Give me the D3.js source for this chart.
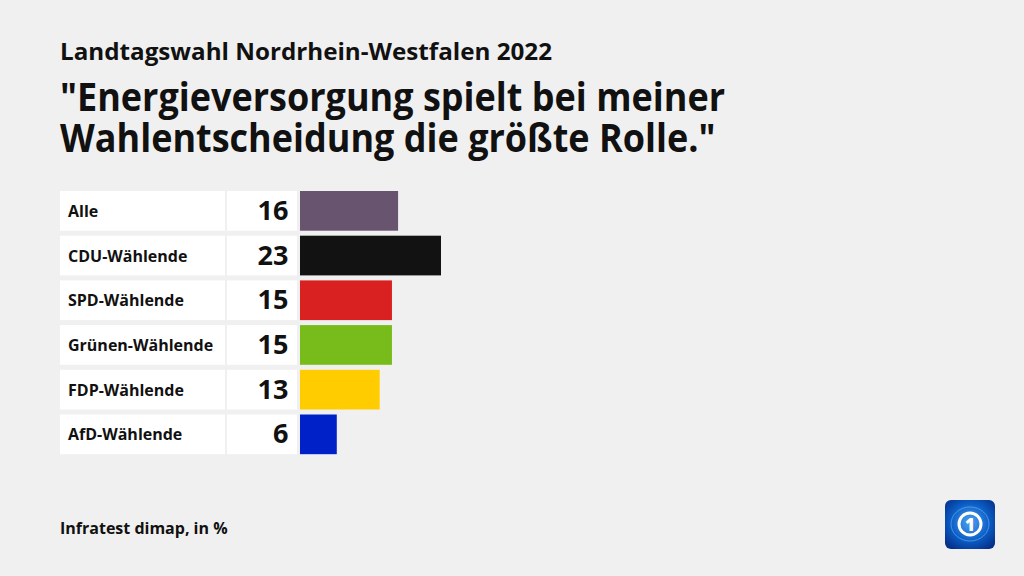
<!DOCTYPE html>
<html><head><meta charset="utf-8">
<script src="https://cdn.jsdelivr.net/npm/d3@7"></script>
<style>body{margin:0;background:#f0f0f0}svg{display:block}text{font-family:"Open Sans",sans-serif}</style>
</head><body>
<svg id="c" width="1024" height="576"></svg>
<script>
const categories = ["Alle","CDU-Wählende","SPD-Wählende","Grünen-Wählende","FDP-Wählende","AfD-Wählende"];
const values = [16,23,15,15,13,6];
const colors = ["#68546f","#121212","#d92121","#78bc1b","#ffcc00","#0021c7"];
const subtitle = "Landtagswahl Nordrhein-Westfalen 2022";
const titleLines = ["\"Energieversorgung spielt bei meiner","Wahlentscheidung die größte Rolle.\""];
const source = "Infratest dimap, in %";

const svg = d3.select("#c");
svg.append("rect").attr("width",1024).attr("height",576).attr("fill","#f0f0f0");

// squeeze text horizontally by factor k
function squeeze(sel, k){ sel.each(function(){ const l=this.getComputedTextLength(); d3.select(this).attr("textLength", l*k).attr("lengthAdjust","spacingAndGlyphs"); }); }

const st = svg.append("text").attr("x",60).attr("y",60).attr("font-size",24).attr("font-weight",700).attr("fill","#111").text(subtitle);
squeeze(st, 492/st.node().getComputedTextLength());
const tl = [111,152].map((y,i)=> svg.append("text").attr("x",60).attr("y",y).attr("font-size",40).attr("font-weight",700).attr("fill","#111").text(titleLines[i]));
const kT = 665/tl[0].node().getComputedTextLength();
tl.forEach(t=>squeeze(t,kT));

const y = d3.scaleBand().domain(categories).range([191, 191+44.7*(6-5/44.7)]).paddingInner(5/44.7).paddingOuter(0);
const x = d3.scaleLinear().domain([0,23]).range([300,441]);

const g = svg.append("g");
const rows = g.selectAll("g.row").data(categories).join("g");
rows.append("rect").attr("x",60).attr("width",165).attr("y",d=>y(d)).attr("height",y.bandwidth()).attr("fill","#fff");
rows.append("rect").attr("x",227).attr("width",70).attr("y",d=>y(d)).attr("height",y.bandwidth()).attr("fill","#fff");
rows.append("rect").attr("x",x(0)).attr("y",d=>y(d)).attr("height",y.bandwidth())
  .attr("width",(d,i)=>x(values[i])-x(0)).attr("fill",(d,i)=>colors[i]);
rows.append("text").attr("x",68).attr("y",d=>y(d)+y.bandwidth()/2+6).attr("font-size",16).attr("font-weight",700).attr("fill","#111").text(d=>d);
rows.append("text").attr("x",288.5).attr("y",d=>y(d)+y.bandwidth()/2+9).attr("text-anchor","end").attr("font-size",27).attr("font-weight",700).attr("fill","#111").text((d,i)=>values[i]);

svg.append("text").attr("x",60).attr("y",534).attr("font-size",16).attr("font-weight",700).attr("fill","#111").text(source);

// logo
const defs = svg.append("defs");
const gr = defs.append("radialGradient").attr("id","lg").attr("cx","50%").attr("cy","45%").attr("r","65%");
gr.append("stop").attr("offset","0%").attr("stop-color","#4fa3f0");
gr.append("stop").attr("offset","60%").attr("stop-color","#0a5cc4");
gr.append("stop").attr("offset","100%").attr("stop-color","#06308a");
const lg = svg.append("g").attr("transform","translate(945,500)");
lg.append("rect").attr("width",50).attr("height",49).attr("rx",6).attr("fill","url(#lg)");
lg.append("ellipse").attr("cx",25).attr("cy",24).attr("rx",19).attr("ry",17).attr("fill","none").attr("stroke","#6fb8f5").attr("stroke-width",1).attr("opacity",0.6);
lg.append("circle").attr("cx",25).attr("cy",24).attr("r",11).attr("fill","none").attr("stroke","#fff").attr("stroke-width",3);
lg.append("text").attr("x",25).attr("y",31).attr("text-anchor","middle").attr("font-size",17).attr("font-weight",800).attr("fill","#fff").text("1");
</script>
</body></html>
